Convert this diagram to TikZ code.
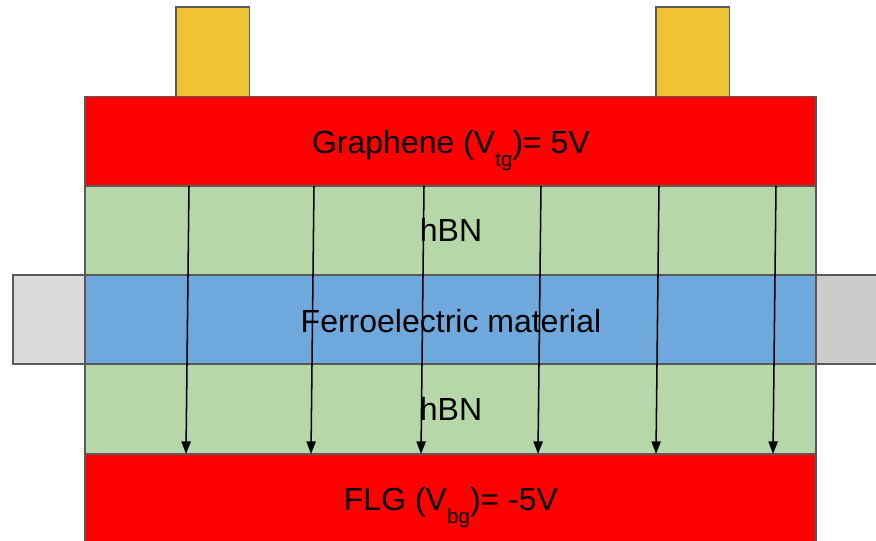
\documentclass[tikz,border=0pt]{standalone}
\usepackage{fontspec}
\setmainfont{Liberation Sans}
\usetikzlibrary{arrows.meta}
\definecolor{edgec}{HTML}{595959}
\definecolor{gold}{HTML}{F1C232}
\definecolor{hbn}{HTML}{B6D7A8}
\definecolor{ferro}{HTML}{6FA8DC}
\newcommand{\lowsub}[1]{\raisebox{-9.5pt}{\fontsize{15.5}{16}\selectfont #1}}
\tikzset{
 x=0.75pt,y=-0.75pt,
 layer/.style={draw=edgec,line width=1.2pt,inner sep=0pt},
 lab/.style={font=\fontsize{24}{26}\selectfont,text=black,inner sep=0pt,anchor=base},
 field/.style={draw=black,line width=1.15pt,-{Triangle[length=9.5pt,width=7pt]}}
}
\begin{document}
\begin{tikzpicture}
\useasboundingbox (0,0) rectangle (876,541);
\clip (0,0) rectangle (876,541);
% contacts
\path[layer,fill=gold] (176,7) rectangle (249.5,96.5);
\path[layer,fill=gold] (656,7) rectangle (729.5,96.5);
% side leads
\path[layer,fill=black!14] (13,275) rectangle (85,364);
\path[layer,fill=black!20] (816,275) rectangle (880,364);
% layers
\path[layer,fill=red] (85,96.5) rectangle (816,186);
\path[layer,fill=hbn] (85,186) rectangle (816,275);
\path[layer,fill=ferro] (85,275) rectangle (816,364);
\path[layer,fill=hbn] (85,364) rectangle (816,454);
\path[layer,fill=red] (85,454) rectangle (816,550);
% labels
\node[lab] (t1) at (451,153.5) {Graphene (V\lowsub{tg})= 5V};
\node[lab] (t2) at (451,242) {hBN};
\node[lab] (t3) at (451,333) {Ferroelectric material};
\node[lab] (t4) at (451,421) {hBN};
\node[lab] (t5) at (451,510.5) {FLG (V\lowsub{bg})= -5V};
% field lines
\coordinate (a1) at (189,186); \coordinate (b1) at (186,454);
\coordinate (a2) at (314,186); \coordinate (b2) at (311,454);
\coordinate (a3) at (424,186); \coordinate (b3) at (421,454);
\coordinate (a4) at (541,186); \coordinate (b4) at (538,454);
\coordinate (a5) at (659,186); \coordinate (b5) at (656,454);
\coordinate (a6) at (776,186); \coordinate (b6) at (773,454);
\foreach \i in {1,...,6} {\draw[field] (a\i) -- (b\i);}
\end{tikzpicture}
\end{document}
